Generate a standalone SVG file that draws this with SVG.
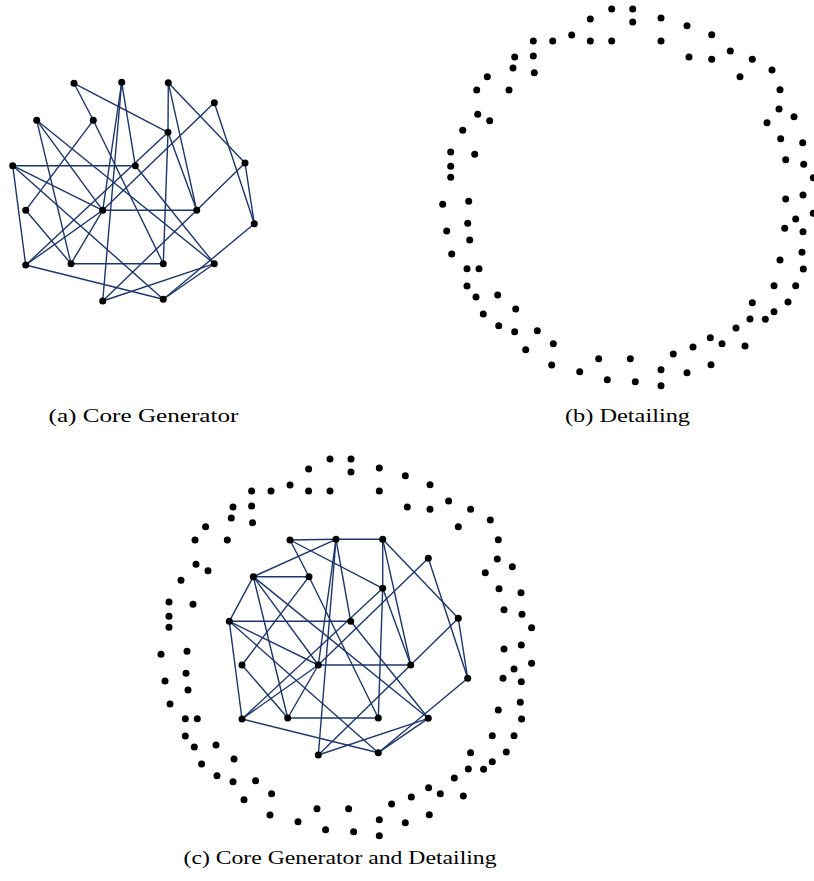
<svg xmlns="http://www.w3.org/2000/svg" xmlns:xlink="http://www.w3.org/1999/xlink" width="814" height="881" viewBox="0 0 814 881">
<style>
.e line{stroke:#1d3668;stroke-width:1.4;fill:none}
.n circle,.d circle{fill:#000}
.cap{font-family:"Liberation Serif","DejaVu Serif",serif;font-size:19px;fill:#000}
</style>
<defs>
<g id="ring" class="d">
<circle cx="611.7" cy="9" r="3.5"/><circle cx="590.3" cy="19" r="3.5"/><circle cx="571.7" cy="35" r="3.5"/><circle cx="533.3" cy="41" r="3.5"/><circle cx="552.7" cy="41" r="3.5"/><circle cx="590.3" cy="41" r="3.5"/><circle cx="611.7" cy="41" r="3.5"/><circle cx="514.7" cy="57" r="3.5"/><circle cx="533.3" cy="56" r="3.5"/><circle cx="513" cy="68" r="3.5"/><circle cx="534.3" cy="72.7" r="3.5"/><circle cx="487.3" cy="76.7" r="3.5"/><circle cx="476.7" cy="90" r="3.5"/><circle cx="509" cy="90" r="3.5"/><circle cx="477.7" cy="114.3" r="3.5"/><circle cx="489.7" cy="120.7" r="3.5"/><circle cx="462.7" cy="130.3" r="3.5"/><circle cx="450.7" cy="152" r="3.5"/><circle cx="474.7" cy="154.3" r="3.5"/><circle cx="450.7" cy="166.3" r="3.5"/><circle cx="450.7" cy="177.3" r="3.5"/>
<circle cx="632.7" cy="9" r="3.5"/><circle cx="632.7" cy="22" r="3.5"/><circle cx="661" cy="18" r="3.5"/><circle cx="661" cy="41" r="3.5"/><circle cx="687" cy="25.7" r="3.5"/><circle cx="689" cy="57" r="3.5"/><circle cx="711.7" cy="34.7" r="3.5"/><circle cx="711.7" cy="59.3" r="3.5"/><circle cx="730.3" cy="51" r="3.5"/><circle cx="752.3" cy="59.3" r="3.5"/><circle cx="740" cy="76.7" r="3.5"/><circle cx="772" cy="70" r="3.5"/><circle cx="780" cy="89.7" r="3.5"/><circle cx="779" cy="109" r="3.5"/><circle cx="794" cy="116.7" r="3.5"/><circle cx="767" cy="122.7" r="3.5"/><circle cx="780.7" cy="138.7" r="3.5"/><circle cx="802.7" cy="142.7" r="3.5"/><circle cx="785.7" cy="159.7" r="3.5"/><circle cx="803.7" cy="164.3" r="3.5"/><circle cx="813.3" cy="177.7" r="3.5"/>
<circle cx="785.7" cy="199" r="3.5"/><circle cx="803" cy="195" r="3.5"/><circle cx="813.3" cy="213.3" r="3.5"/><circle cx="795.7" cy="219" r="3.5"/><circle cx="784.7" cy="228.3" r="3.5"/><circle cx="803" cy="231.7" r="3.5"/><circle cx="802" cy="252.3" r="3.5"/><circle cx="780" cy="260" r="3.5"/><circle cx="803.3" cy="269" r="3.5"/><circle cx="774" cy="285.7" r="3.5"/><circle cx="795.7" cy="285.7" r="3.5"/><circle cx="752.3" cy="302.7" r="3.5"/><circle cx="788" cy="302" r="3.5"/><circle cx="774" cy="311.7" r="3.5"/><circle cx="750" cy="319" r="3.5"/><circle cx="765.3" cy="319.3" r="3.5"/><circle cx="736" cy="328" r="3.5"/><circle cx="710.3" cy="337.7" r="3.5"/><circle cx="722" cy="343.7" r="3.5"/><circle cx="745" cy="346" r="3.5"/><circle cx="693" cy="347" r="3.5"/><circle cx="673.3" cy="354" r="3.5"/><circle cx="630.3" cy="358.7" r="3.5"/><circle cx="661" cy="369.7" r="3.5"/><circle cx="687" cy="372.7" r="3.5"/><circle cx="711" cy="364.7" r="3.5"/><circle cx="635.3" cy="381.7" r="3.5"/><circle cx="661" cy="385.7" r="3.5"/>
<circle cx="442.7" cy="204.3" r="3.5"/><circle cx="468.7" cy="201.3" r="3.5"/><circle cx="467.7" cy="223.3" r="3.5"/><circle cx="446.7" cy="231" r="3.5"/><circle cx="469.7" cy="240" r="3.5"/><circle cx="451.7" cy="254" r="3.5"/><circle cx="467" cy="268.7" r="3.5"/><circle cx="479" cy="268.7" r="3.5"/><circle cx="467" cy="286" r="3.5"/><circle cx="476" cy="297" r="3.5"/><circle cx="497.7" cy="295" r="3.5"/><circle cx="483.3" cy="314" r="3.5"/><circle cx="515.7" cy="309" r="3.5"/><circle cx="498.7" cy="325.7" r="3.5"/><circle cx="514.7" cy="331.7" r="3.5"/><circle cx="537.3" cy="330.7" r="3.5"/><circle cx="553.3" cy="343.7" r="3.5"/><circle cx="525.7" cy="349.7" r="3.5"/><circle cx="551.7" cy="365" r="3.5"/><circle cx="579.7" cy="371.7" r="3.5"/><circle cx="598.7" cy="358.7" r="3.5"/><circle cx="607.3" cy="379.7" r="3.5"/>
</g>
</defs>

<!-- Panel (a) -->
<g id="panel-a">
<g id="edges-a" class="e">
<line x1="74" y1="83.3" x2="93.3" y2="120.3"/>
<line x1="74" y1="83.3" x2="168" y2="132.3"/>
<line x1="121.7" y1="82.3" x2="135.3" y2="165.7"/>
<line x1="121.7" y1="82.3" x2="102.7" y2="210.3"/>
<line x1="121.7" y1="82.3" x2="102.7" y2="301"/>
<line x1="168.3" y1="82.7" x2="168" y2="132.3"/>
<line x1="168" y1="132.3" x2="163.3" y2="263.7"/>
<line x1="168.3" y1="82.7" x2="196.7" y2="210.3"/>
<line x1="168" y1="132.3" x2="196.7" y2="210.3"/>
<line x1="168.3" y1="82.7" x2="245" y2="163"/>
<line x1="214.3" y1="102.7" x2="254.3" y2="223.7"/>
<line x1="214.3" y1="102.7" x2="102.7" y2="210.3"/>
<line x1="168" y1="132.3" x2="25.7" y2="265"/>
<line x1="245" y1="163" x2="196.7" y2="210.3"/>
<line x1="245" y1="163" x2="254.3" y2="223.7"/>
<line x1="254.3" y1="223.7" x2="163.3" y2="299.3"/>
<line x1="214.3" y1="263.7" x2="163.3" y2="299.3"/>
<line x1="214.3" y1="263.7" x2="102.7" y2="301"/>
<line x1="36.7" y1="120.3" x2="71" y2="263.7"/>
<line x1="36.7" y1="120.3" x2="102.7" y2="210.3"/>
<line x1="36.7" y1="120.3" x2="214.3" y2="263.7"/>
<line x1="93.3" y1="120.3" x2="25.7" y2="210.3"/>
<line x1="93.3" y1="120.3" x2="163.3" y2="263.7"/>
<line x1="12.7" y1="165.7" x2="135.3" y2="165.7"/>
<line x1="12.7" y1="165.7" x2="102.7" y2="210.3"/>
<line x1="12.7" y1="165.7" x2="25.7" y2="265"/>
<line x1="12.7" y1="165.7" x2="163.3" y2="299.3"/>
<line x1="25.7" y1="210.3" x2="71" y2="263.7"/>
<line x1="102.7" y1="210.3" x2="196.7" y2="210.3"/>
<line x1="102.7" y1="210.3" x2="71" y2="263.7"/>
<line x1="102.7" y1="210.3" x2="25.7" y2="265"/>
<line x1="25.7" y1="265" x2="163.3" y2="299.3"/>
<line x1="71" y1="263.7" x2="163.3" y2="263.7"/>
<line x1="135.3" y1="165.7" x2="214.3" y2="263.7"/>
<line x1="196.7" y1="210.3" x2="102.7" y2="301"/>
</g>
<g id="nodes-a" class="n">
<g id="a1"><circle cx="74" cy="83.3" r="3.5"/></g>
<g id="a2"><circle cx="121.7" cy="82.3" r="3.5"/></g>
<g id="a3"><circle cx="168.3" cy="82.7" r="3.5"/></g>
<g id="a4"><circle cx="214.3" cy="102.7" r="3.5"/></g>
<g id="a5"><circle cx="36.7" cy="120.3" r="3.5"/></g>
<g id="a6"><circle cx="93.3" cy="120.3" r="3.5"/></g>
<g id="a7"><circle cx="168" cy="132.3" r="3.5"/></g>
<g id="a8"><circle cx="12.7" cy="165.7" r="3.5"/></g>
<g id="a9"><circle cx="135.3" cy="165.7" r="3.5"/></g>
<g id="a10"><circle cx="245" cy="163" r="3.5"/></g>
<g id="a11"><circle cx="25.7" cy="210.3" r="3.5"/></g>
<g id="a12"><circle cx="102.7" cy="210.3" r="3.5"/></g>
<g id="a13"><circle cx="196.7" cy="210.3" r="3.5"/></g>
<g id="a14"><circle cx="254.3" cy="223.7" r="3.5"/></g>
<g id="a15"><circle cx="25.7" cy="265" r="3.5"/></g>
<g id="a16"><circle cx="71" cy="263.7" r="3.5"/></g>
<g id="a17"><circle cx="163.3" cy="263.7" r="3.5"/></g>
<g id="a18"><circle cx="214.3" cy="263.7" r="3.5"/></g>
<g id="a19"><circle cx="102.7" cy="301" r="3.5"/></g>
<g id="a20"><circle cx="163.3" cy="299.3" r="3.5"/></g>
</g>
<text class="cap" x="48.5" y="422" textLength="190" lengthAdjust="spacingAndGlyphs">(a)  Core Generator</text>
</g>

<!-- Panel (b) -->
<g id="panel-b">
<use xlink:href="#ring" href="#ring"/>
<text class="cap" x="565" y="422" textLength="125" lengthAdjust="spacingAndGlyphs">(b)  Detailing</text>
</g>

<!-- Panel (c) -->
<g id="panel-c">
<use xlink:href="#ring" href="#ring" transform="translate(-281.7,450)"/>
<g id="edges-c" class="e">
<line x1="290" y1="540" x2="336" y2="539.3"/>
<line x1="336" y1="539.3" x2="382.7" y2="539.3"/>
<line x1="253.3" y1="576.7" x2="309" y2="576.7"/>
<line x1="336" y1="539.3" x2="253.3" y2="576.7"/>
<line x1="253.3" y1="576.7" x2="229.3" y2="621.3"/>
<line x1="290" y1="540" x2="309" y2="576.7"/>
<line x1="290" y1="540" x2="382.7" y2="588.3"/>
<line x1="336" y1="539.3" x2="350.7" y2="621.3"/>
<line x1="336" y1="539.3" x2="318.3" y2="665"/>
<line x1="336" y1="539.3" x2="318.3" y2="755"/>
<line x1="382.7" y1="539.3" x2="382.7" y2="588.3"/>
<line x1="382.7" y1="588.3" x2="378.3" y2="718"/>
<line x1="382.7" y1="539.3" x2="410.7" y2="665"/>
<line x1="382.7" y1="588.3" x2="410.7" y2="665"/>
<line x1="382.7" y1="539.3" x2="458.3" y2="618.3"/>
<line x1="428.3" y1="558.3" x2="467.7" y2="678.3"/>
<line x1="428.3" y1="558.3" x2="318.3" y2="665"/>
<line x1="382.7" y1="588.3" x2="242" y2="719"/>
<line x1="458.3" y1="618.3" x2="410.7" y2="665"/>
<line x1="458.3" y1="618.3" x2="467.7" y2="678.3"/>
<line x1="467.7" y1="678.3" x2="378.3" y2="752.7"/>
<line x1="428.3" y1="718.3" x2="378.3" y2="752.7"/>
<line x1="428.3" y1="718.3" x2="318.3" y2="755"/>
<line x1="253.3" y1="576.7" x2="287.7" y2="718"/>
<line x1="253.3" y1="576.7" x2="318.3" y2="665"/>
<line x1="253.3" y1="576.7" x2="428.3" y2="718.3"/>
<line x1="309" y1="576.7" x2="242" y2="665"/>
<line x1="309" y1="576.7" x2="378.3" y2="718"/>
<line x1="229.3" y1="621.3" x2="350.7" y2="621.3"/>
<line x1="229.3" y1="621.3" x2="318.3" y2="665"/>
<line x1="229.3" y1="621.3" x2="242" y2="719"/>
<line x1="229.3" y1="621.3" x2="378.3" y2="752.7"/>
<line x1="242" y1="665" x2="287.7" y2="718"/>
<line x1="318.3" y1="665" x2="410.7" y2="665"/>
<line x1="318.3" y1="665" x2="287.7" y2="718"/>
<line x1="318.3" y1="665" x2="242" y2="719"/>
<line x1="242" y1="719" x2="378.3" y2="752.7"/>
<line x1="287.7" y1="718" x2="378.3" y2="718"/>
<line x1="350.7" y1="621.3" x2="428.3" y2="718.3"/>
<line x1="410.7" y1="665" x2="318.3" y2="755"/>
</g>
<g id="nodes-c" class="n">
<g id="c1"><circle cx="290" cy="540" r="3.5"/></g>
<g id="c2"><circle cx="336" cy="539.3" r="3.5"/></g>
<g id="c3"><circle cx="382.7" cy="539.3" r="3.5"/></g>
<g id="c4"><circle cx="428.3" cy="558.3" r="3.5"/></g>
<g id="c5"><circle cx="253.3" cy="576.7" r="3.5"/></g>
<g id="c6"><circle cx="309" cy="576.7" r="3.5"/></g>
<g id="c7"><circle cx="382.7" cy="588.3" r="3.5"/></g>
<g id="c8"><circle cx="229.3" cy="621.3" r="3.5"/></g>
<g id="c9"><circle cx="350.7" cy="621.3" r="3.5"/></g>
<g id="c10"><circle cx="458.3" cy="618.3" r="3.5"/></g>
<g id="c11"><circle cx="242" cy="665" r="3.5"/></g>
<g id="c12"><circle cx="318.3" cy="665" r="3.5"/></g>
<g id="c13"><circle cx="410.7" cy="665" r="3.5"/></g>
<g id="c14"><circle cx="467.7" cy="678.3" r="3.5"/></g>
<g id="c15"><circle cx="242" cy="719" r="3.5"/></g>
<g id="c16"><circle cx="287.7" cy="718" r="3.5"/></g>
<g id="c17"><circle cx="378.3" cy="718" r="3.5"/></g>
<g id="c18"><circle cx="428.3" cy="718.3" r="3.5"/></g>
<g id="c19"><circle cx="318.3" cy="755" r="3.5"/></g>
<g id="c20"><circle cx="378.3" cy="752.7" r="3.5"/></g>
</g>
<text class="cap" x="183.5" y="863.5" textLength="313" lengthAdjust="spacingAndGlyphs">(c)  Core Generator and Detailing</text>
</g>
</svg>
